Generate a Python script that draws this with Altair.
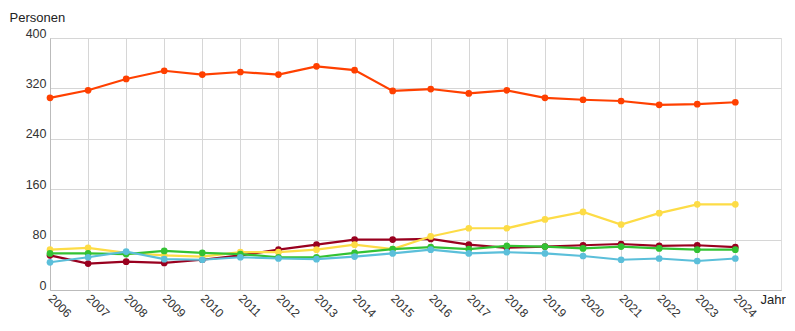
import altair as alt
import pandas as pd

years = list(range(2006, 2025))
orange = [305, 317, 335, 348, 342, 346, 342, 355, 349, 316, 319, 312, 317, 305, 302, 300, 294, 295, 298]
darkred = [55, 42, 45, 43, 48, 55, 64, 72, 80, 80, 81, 72, 67, 69, 71, 73, 70, 71, 68]
yellow = [64, 67, 59, 55, 53, 60, 60, 64, 72, 65, 85, 98, 98, 112, 124, 104, 122, 136, 136]
green = [58, 58, 57, 62, 59, 57, 52, 52, 59, 65, 68, 65, 70, 69, 66, 69, 66, 64, 64]
blue = [44, 52, 61, 49, 48, 52, 50, 49, 53, 58, 64, 58, 60, 58, 54, 48, 50, 46, 50]

series = [("A", orange, "#ff4000"), ("B", darkred, "#99001f"), ("C", yellow, "#fddc46"),
          ("D", green, "#33c233"), ("E", blue, "#5bbfda")]

rows = []
for order, (name, vals, col) in enumerate(series):
    for y, v in zip(years, vals):
        rows.append({"Jahr": y, "Wert": v, "Serie": name, "o": order})
df = pd.DataFrame(rows)

names = [s[0] for s in series]
colors = [s[2] for s in series]

x = alt.X("Jahr:Q",
          scale=alt.Scale(domain=[2006, 2025.2], nice=False, zero=False),
          axis=alt.Axis(values=years, format="d", labelAngle=45, labelAlign="left",
                        labelBaseline="middle", labelPadding=6, ticks=False,
                        domainColor="#bbbbbb", gridColor="#d6d6d6", labelColor="#333333",
                        labelFontSize=12, labelFont="Liberation Sans",
                        title="Jahr", titleFontWeight="normal", titleFontSize=13,
                        titleFont="Liberation Sans", titleColor="#222222",
                        titleX=710, titleY=9, titleAlign="left", titleBaseline="middle",
                        labelOverlap=False))
y = alt.Y("Wert:Q",
          scale=alt.Scale(domain=[0, 400], nice=False),
          axis=alt.Axis(values=[0, 80, 160, 240, 320, 400], ticks=False, labelPadding=4,
                        labelBaseline="bottom", labelOffset=2, domainColor="#bbbbbb",
                        gridColor="#d6d6d6",
                        labelColor="#333333", labelFontSize=12.5, labelFont="Liberation Sans",
                        title="Personen", titleAngle=0, titleFontWeight="normal",
                        titleFontSize=13, titleFont="Liberation Sans", titleColor="#222222",
                        titleX=-41, titleY=-21, titleAlign="left", titleBaseline="middle"))
color = alt.Color("Serie:N", scale=alt.Scale(domain=names, range=colors), legend=None)

layers = []
for name, vals, col in series:
    sub = df[df["Serie"] == name]
    base = alt.Chart(sub).encode(x=x, y=y, color=color)
    layers.append(base.mark_line(strokeWidth=2.2))
    layers.append(base.mark_circle(size=45, opacity=1))

chart = alt.layer(*layers).properties(
    width=731, height=252,
    padding={"left": 42, "top": 30, "right": 5, "bottom": 40},
    autosize=alt.AutoSizeParams(type="none"),
).configure_view(stroke=None).configure(background="white")

chart.save("out.html", embed_options={"renderer": "svg", "actions": False})
